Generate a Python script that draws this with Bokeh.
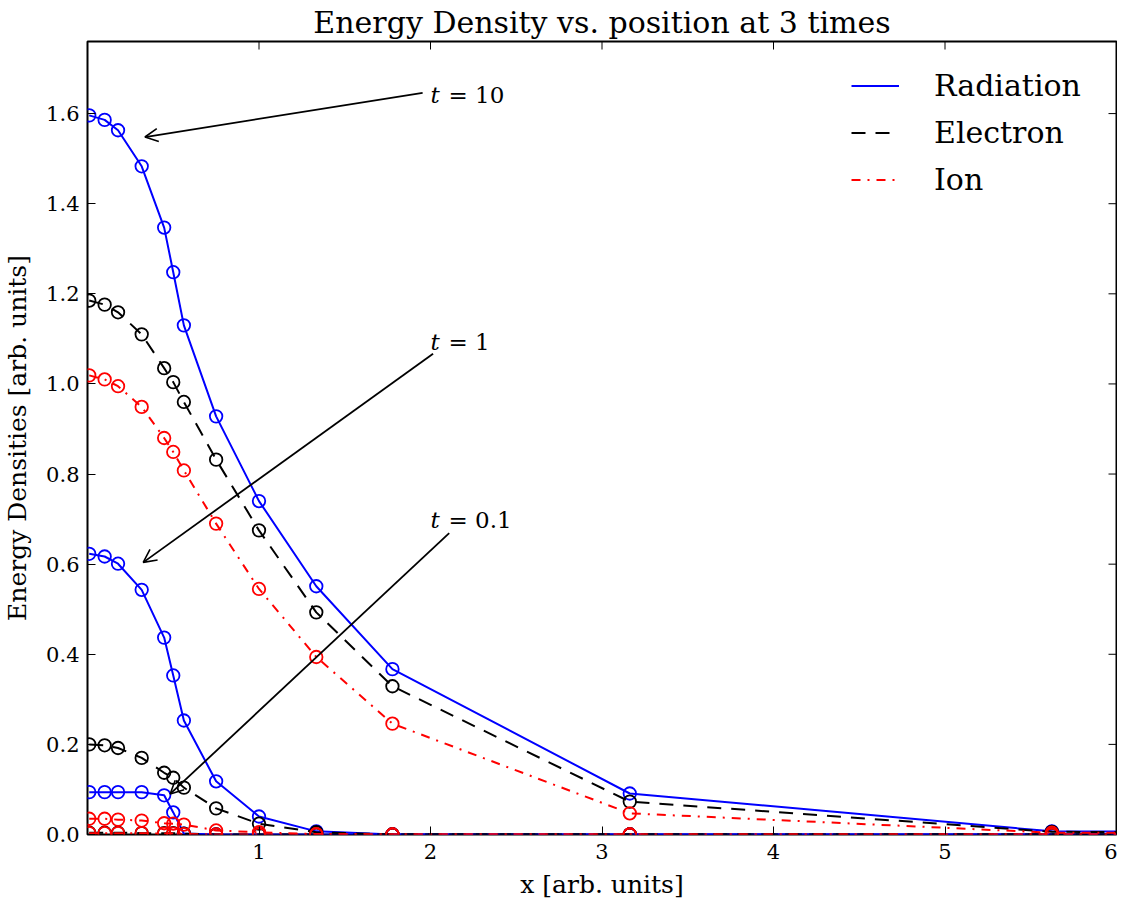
from bokeh.plotting import figure
from bokeh.models import (FixedTicker, PrintfTickFormatter, Range1d,
                          Arrow, OpenHead, Label, Legend, LegendItem)
from bokeh.embed import file_html
from bokeh.resources import INLINE

# ---------------- data ----------------
x_pos = [0.01, 0.1, 0.178, 0.316, 0.447, 0.5, 0.562, 0.75, 1.0, 1.334, 1.778, 3.162, 5.623, 10.0]

rad_t10 = [1.596, 1.586, 1.563, 1.483, 1.347, 1.248, 1.130, 0.928, 0.740, 0.551, 0.367, 0.091, 0.007, 0.0]
ele_t10 = [1.185, 1.176, 1.159, 1.110, 1.035, 1.004, 0.960, 0.832, 0.675, 0.493, 0.329, 0.073, 0.006, 0.0]
ion_t10 = [1.019, 1.010, 0.995, 0.949, 0.880, 0.849, 0.808, 0.690, 0.545, 0.394, 0.246, 0.047, 0.004, 0.0]

rad_t1 = [0.623, 0.617, 0.601, 0.543, 0.437, 0.353, 0.253, 0.118, 0.040, 0.007, 0.0, 0.0, 0.0, 0.0]
ele_t1 = [0.200, 0.198, 0.192, 0.170, 0.137, 0.126, 0.104, 0.058, 0.024, 0.005, 0.0, 0.0, 0.0, 0.0]
ion_t1 = [0.035, 0.035, 0.033, 0.031, 0.025, 0.024, 0.022, 0.009, 0.005, 0.001, 0.0, 0.0, 0.0, 0.0]

rad_t01 = [0.094, 0.094, 0.094, 0.094, 0.087, 0.049, 0.002, 0.0, 0.0, 0.0, 0.0, 0.0, 0.0, 0.0]
ele_t01 = [0.004, 0.004, 0.004, 0.003, 0.003, 0.003, 0.002, 0.0, 0.0, 0.0, 0.0, 0.0, 0.0, 0.0]
ion_t01 = [0.003, 0.003, 0.003, 0.003, 0.002, 0.002, 0.001, 0.0, 0.0, 0.0, 0.0, 0.0, 0.0, 0.0]

species = ["Radiation", "Electron", "Ion"]
x_ticks = [1, 2, 3, 4, 5, 6]
y_ticks = [0.0, 0.2, 0.4, 0.6, 0.8, 1.0, 1.2, 1.4, 1.6]
x_lim = (0, 6)
y_lim = (0, 1.76)

# annotations: time labels and arrows
ann_time = ["10", "1", "0.1"]
ann_text_x = [2.0, 2.0, 2.0]
ann_text_y = [1.642, 1.093, 0.697]
arrow_x0 = [1.954, 2.015, 2.109]
arrow_y0 = [1.646, 1.067, 0.669]
arrow_x1 = [0.335, 0.325, 0.482]
arrow_y1 = [1.548, 0.604, 0.090]

SERIF = "DejaVu Serif"
FRAME_W, FRAME_H = 1030, 791
TICK_PX = 8

# ---------------- figure ----------------
p = figure(width=1117, height=901, output_backend="svg", toolbar_location=None,
           x_range=Range1d(*x_lim), y_range=Range1d(*y_lim),
           min_border_left=86, min_border_right=1, min_border_top=38, min_border_bottom=59,
           title="Energy Density vs. position at 3 times")
p.title.align = "center"
p.title.text_font = SERIF
p.title.text_font_size = "30px"
p.title.text_font_style = "normal"
p.title.text_color = "black"
p.title.standoff = 4
p.xgrid.visible = False
p.ygrid.visible = False
p.outline_line_color = "black"
p.outline_line_width = 2
p.background_fill_color = "white"
p.border_fill_color = "white"

styles = {
    "Radiation": dict(color="#0000ff", dash="solid"),
    "Electron": dict(color="#000000", dash="14 10"),
    "Ion": dict(color="#ff0000", dash="9 7 2 7"),
}
series = {
    "Radiation": [rad_t10, rad_t1, rad_t01],
    "Electron": [ele_t10, ele_t1, ele_t01],
    "Ion": [ion_t10, ion_t1, ion_t01],
}

legend_renderers = {}
for name in species:
    st = styles[name]
    for k, yv in enumerate(series[name]):
        r = p.line(x_pos, yv, line_color=st["color"], line_width=2, line_dash=st["dash"])
        p.scatter(x_pos, yv, marker="circle", size=12.5, fill_color=None,
                  line_color=st["color"], line_width=1.8)
        if k == 0:
            legend_renderers[name] = r

# axes (left / bottom)
def style_axis(ax, ticks, fmt):
    ax.ticker = FixedTicker(ticks=ticks)
    ax.minor_tick_line_color = None
    ax.major_tick_in = TICK_PX
    ax.major_tick_out = 0
    ax.major_tick_line_color = "black"
    ax.major_tick_line_width = 1
    ax.axis_line_color = None
    ax.formatter = PrintfTickFormatter(format=fmt)
    ax.major_label_text_font = SERIF
    ax.major_label_text_color = "black"
    ax.major_label_text_font_size = "21px"
    ax.axis_label_text_font = SERIF
    ax.axis_label_text_font_size = "25px"
    ax.axis_label_text_font_style = "normal"
    ax.axis_label_text_color = "black"

style_axis(p.xaxis[0], x_ticks, "%d")
style_axis(p.yaxis[0], y_ticks, "%.1f")
p.xaxis[0].major_label_standoff = 9
p.yaxis[0].major_label_standoff = 8
p.xaxis[0].axis_label = "x [arb. units]"
p.yaxis[0].axis_label = "Energy Densities [arb. units]"
p.xaxis[0].axis_label_standoff = 8
p.yaxis[0].axis_label_standoff = 11

# mirrored inward ticks on the top and right spines
dx = TICK_PX * (x_lim[1] - x_lim[0]) / FRAME_W
dy = TICK_PX * (y_lim[1] - y_lim[0]) / FRAME_H
top_ticks = [t for t in x_ticks if x_lim[0] < t < x_lim[1]]
right_ticks = [t for t in y_ticks if y_lim[0] < t < y_lim[1]]
p.segment(x0=top_ticks, x1=top_ticks, y0=[y_lim[1]] * len(top_ticks),
          y1=[y_lim[1] - dy] * len(top_ticks), line_color="black", line_width=1)
p.segment(x0=[x_lim[1]] * len(right_ticks), x1=[x_lim[1] - dx] * len(right_ticks),
          y0=right_ticks, y1=right_ticks, line_color="black", line_width=1)

# annotations
for i in range(len(ann_time)):
    p.add_layout(Arrow(end=OpenHead(size=13, line_width=1.6, line_color="black"),
                       x_start=arrow_x0[i], y_start=arrow_y0[i],
                       x_end=arrow_x1[i], y_end=arrow_y1[i],
                       line_color="black", line_width=1.8))
    p.add_layout(Label(x=ann_text_x[i], y=ann_text_y[i], text="t",
                       text_font=SERIF, text_font_style="italic", text_font_size="23px",
                       text_baseline="alphabetic", text_color="black"))
    p.add_layout(Label(x=ann_text_x[i], y=ann_text_y[i], x_offset=18,
                       text="= " + ann_time[i],
                       text_font=SERIF, text_font_size="23px",
                       text_baseline="alphabetic", text_color="black"))

# legend
legend = Legend(items=[LegendItem(label=n, renderers=[legend_renderers[n]]) for n in species],
                location=(764, 631), orientation="vertical")
legend.glyph_width = 48
legend.glyph_height = 47
legend.label_height = 47
legend.label_standoff = 35
legend.spacing = 0
legend.padding = 0
legend.margin = 0
legend.border_line_color = None
legend.background_fill_alpha = 0
legend.label_text_font = SERIF
legend.label_text_font_size = "30px"
legend.label_text_color = "black"
p.add_layout(legend)

open("out.html", "w").write(file_html(p, INLINE))
